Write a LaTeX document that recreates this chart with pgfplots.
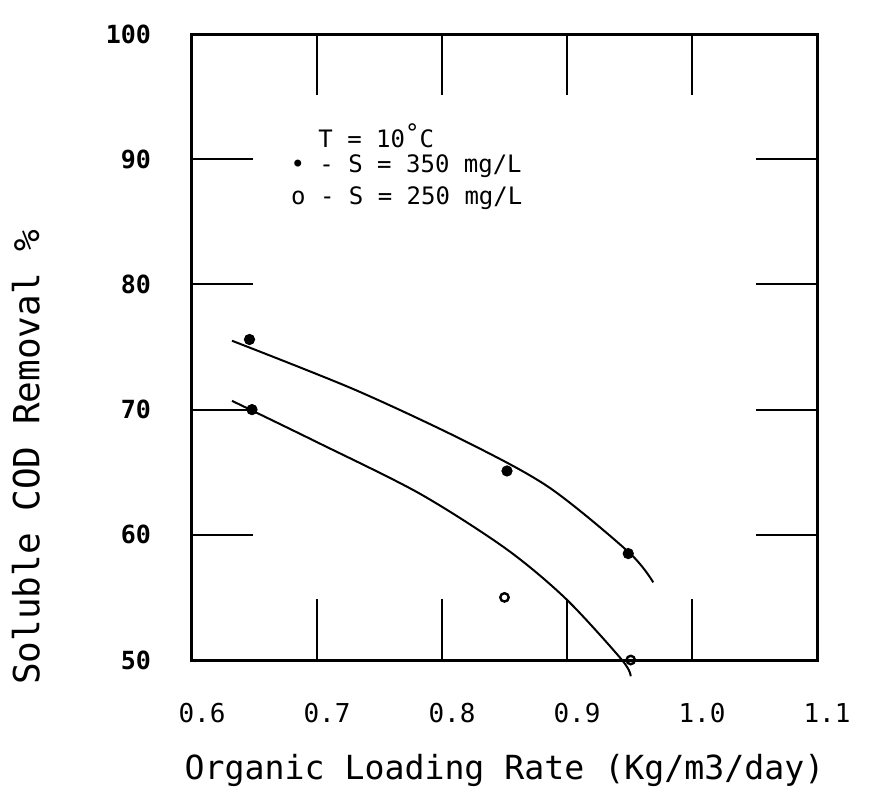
\documentclass[border=0pt]{standalone}
\usepackage{pgfplots}
\pgfplotsset{compat=1.18}
\usepackage{fontspec}
\setmainfont{DejaVu Sans Mono}
\begin{document}
\begin{tikzpicture}
\path[use as bounding box] (-96pt,-69.5pt) rectangle (340pt,330pt);
\begin{axis}[
  at={(0,0)}, anchor=south west,
  width=312.5pt, height=313pt, scale only axis,
  xmin=0.6, xmax=1.1, ymin=50, ymax=100,
  xtick={0.6,0.7,0.8,0.9,1.0,1.1},
  xticklabels={0.6,0.7,0.8,0.9,1.0,1.1},
  ytick={50,60,70,80,90,100},
  yticklabels={50,60,70,80,90,100},
  tick align=inside, xtick pos=both, ytick pos=both,
  major tick length=30.5pt,
  tick style={line width=1pt, black},
  axis line style={line width=1.5pt},
  xticklabel style={font=\fontsize{13}{13}\selectfont, yshift=-18pt, xshift=5pt},
  yticklabel style={font=\bfseries\fontsize{12.5}{12.5}\selectfont, xshift=-17pt},
  xlabel={Organic Loading Rate (Kg/m3/day)},
  xlabel style={at={(axis description cs:0.5,-0.176)}, anchor=center, font=\fontsize{16.6}{17}\selectfont},
  ylabel={Soluble COD Removal \%},
  ylabel style={at={(axis description cs:-0.266,0.324)}, anchor=center, font=\fontsize{18}{18}\selectfont},
  clip=false,
]
\addplot[black, no marks, line width=1pt, smooth] coordinates {
  (0.632,75.5) (0.730,71.6) (0.818,67.5) (0.8855,63.8) (0.9495,58.6) (0.969,56.2)};
\addplot[black, no marks, line width=1pt, smooth] coordinates {
  (0.632,70.7) (0.700,67.4) (0.782,63.3) (0.851,58.9) (0.899,54.9) (0.944,50.0) (0.951,48.7)};
\addplot[black, only marks, mark=*, mark size=2.6pt] coordinates {
  (0.646,75.6) (0.648,70.0) (0.852,65.1) (0.949,58.5)};
\addplot[black, only marks, mark=o, mark size=2.1pt, line width=1.2pt] coordinates {
  (0.850,55.0) (0.951,50.0)};
\node[anchor=west, inner sep=0pt, font=\fontsize{12}{12}\selectfont] at (axis description cs:0.2016,0.837) {T = 10\raisebox{3pt}{°}C};
\node[anchor=west, inner sep=0pt, font=\fontsize{12}{12}\selectfont] at (axis description cs:0.157,0.789) {• - S = 350 mg/L};
\node[anchor=west, inner sep=0pt, font=\fontsize{12}{12}\selectfont] at (axis description cs:0.158,0.738) {o - S = 250 mg/L};
\end{axis}
\end{tikzpicture}
\end{document}
